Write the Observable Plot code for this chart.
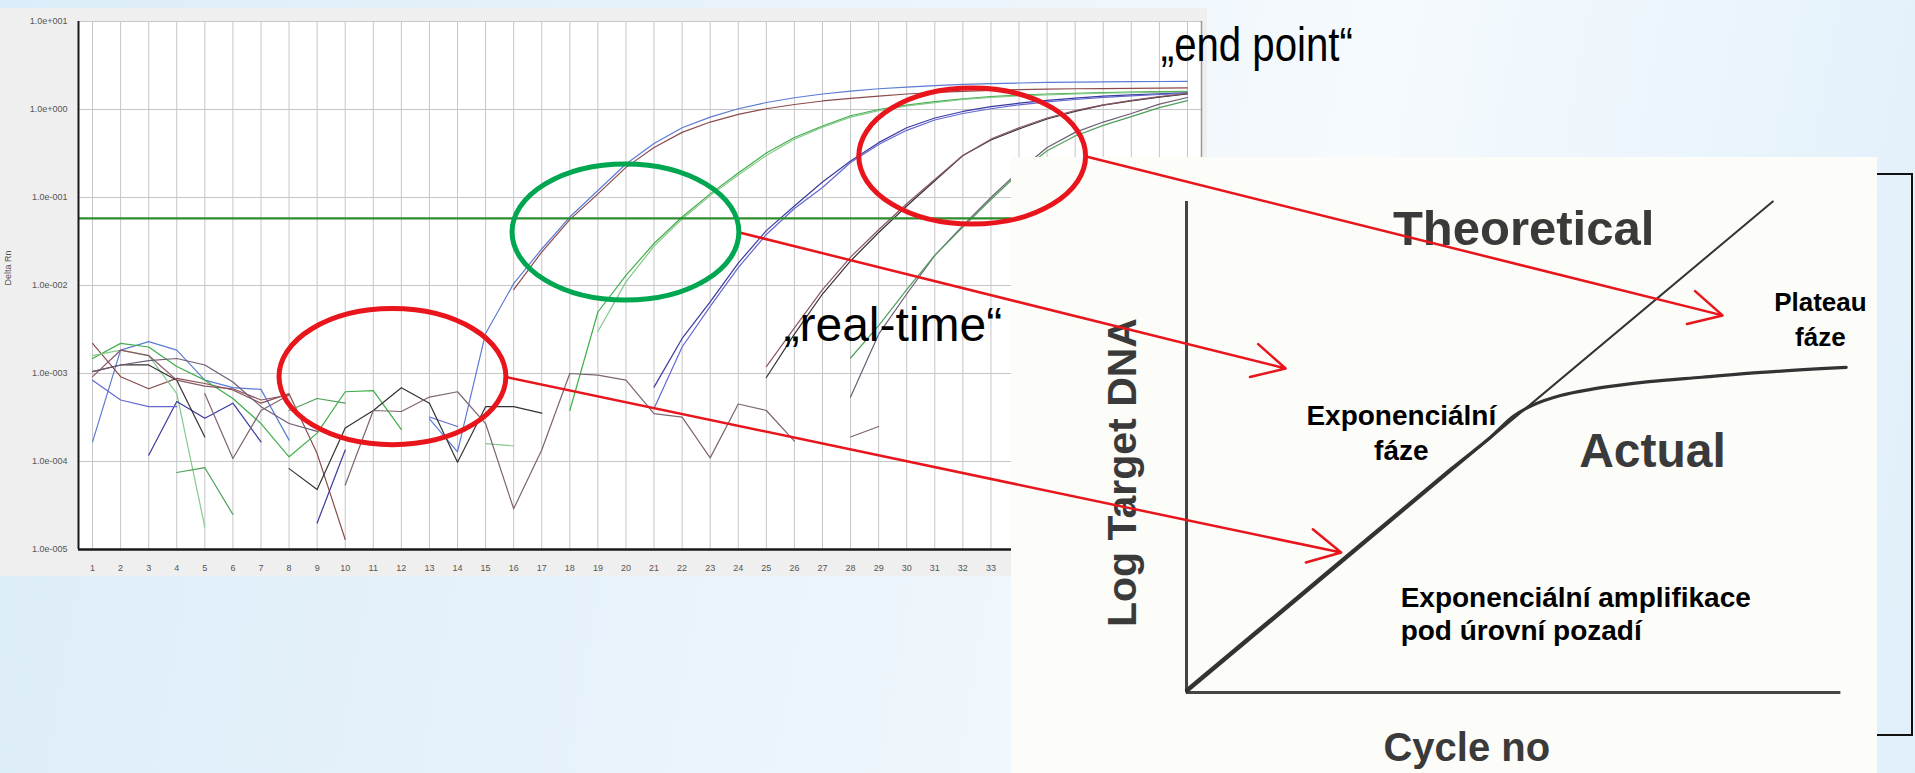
<!DOCTYPE html>
<html lang="cs">
<head>
<meta charset="utf-8">
<script src="https://cdn.jsdelivr.net/npm/d3@7"></script>
<script src="https://cdn.jsdelivr.net/npm/@observablehq/plot@0.6"></script>
<style>
  html, body { margin:0; padding:0; }
  body { width:1915px; height:773px; overflow:hidden; position:relative;
    background: linear-gradient(100deg, #dcedf9 0%, #e7f2fb 35%, #f5fafd 68%, #e0effa 100%);
    font-family: "Liberation Sans", Arial, sans-serif; }
  .abs { position:absolute; }
  #panel { left:0; top:8px; width:1207px; height:568px; background:#efefef; }
  #c1 { left:0; top:0; }
  #frame { left:1060px; top:173px; width:849px; height:559px; border:2px solid #111; }
  #box { left:1011px; top:157px; width:866px; height:616px; background:#fcfcf9; }
  #ov { left:0; top:0; pointer-events:none; }
  svg { overflow: visible; }
</style>
</head>
<body>
<div id="panel" class="abs"></div>
<div id="c1" class="abs"></div>
<div id="frame" class="abs"></div>
<div id="box" class="abs"></div>
<div id="ov" class="abs"></div>
<script>
// ---------- DATA: amplification plot (Delta Rn, log scale) ----------
const cycles = [1,2,3,4,5,6,7,8,9,10,11,12,13,14,15,16,17,18,19,20,21,22,23,24,25,26,27,28,29,30,31,32,33,34,35,36,37,38,39,40];
const yTicks = [1e-5, 1e-4, 1e-3, 1e-2, 1e-1, 1, 10];
const threshold = [0.058];

const samples = ["A1","A2","B1","B2","C1","C2","D1","D2","E1","E2","NTC"];
const sampleColors = ["#5b7bd5","#8b4b4b","#3fae49","#86c98a","#3a3aa0","#6468d0","#333333","#8a5565","#6d5d75","#4f9f5a","#7d6470"];

const A1 = [1.67e-4,1.84e-3,2.3e-3,1.84e-3,8.4e-4,6.9e-4,6.6e-4,1.75e-4,null,null,null,null,3.05e-4,1.29e-4,2.85e-3,0.0105,0.026,0.06,0.12,0.24,0.41,0.62,0.82,1.02,1.2,1.36,1.5,1.62,1.72,1.8,1.87,1.93,1.97,2.0,2.03,2.05,2.06,2.07,2.08,2.09];
const A2 = [2.2e-3,9.2e-4,6.7e-4,8.8e-4,7.7e-4,6.5e-4,4.6e-4,5.9e-4,1.23e-4,1.3e-5,null,null,null,null,null,0.009,0.024,0.056,0.11,0.22,0.37,0.55,0.72,0.88,1.02,1.14,1.25,1.34,1.42,1.5,1.56,1.61,1.65,1.68,1.7,1.72,1.73,1.74,1.75,1.76];
const B1 = [1.48e-3,2.2e-3,2.0e-3,1.2e-3,8.4e-4,5.2e-4,2.7e-4,1.13e-4,2.1e-4,6.2e-4,6.4e-4,2.3e-4,null,null,null,null,null,3.8e-4,5e-3,0.013,0.03,0.06,0.11,0.19,0.32,0.48,0.65,0.85,1.0,1.12,1.23,1.32,1.4,1.46,1.5,1.53,1.56,1.58,1.6,1.61];
const B2 = [1.6e-3,1.84e-3,1.6e-3,5.9e-4,1.8e-5,null,null,null,null,null,null,null,null,null,1.6e-4,1.5e-4,null,null,3e-3,0.011,0.028,0.057,0.105,0.18,0.3,0.46,0.63,0.82,0.97,1.1,1.2,1.3,1.37,1.43,1.47,1.5,1.53,1.55,1.57,1.58];
const C1 = [null,null,1.18e-4,4.8e-4,3.1e-4,4.6e-4,1.67e-4,null,2.0e-5,1.35e-4,null,null,null,null,null,null,null,null,null,null,7e-4,2.5e-3,6.5e-3,0.018,0.042,0.08,0.15,0.26,0.42,0.62,0.8,0.95,1.08,1.18,1.27,1.35,1.42,1.47,1.51,1.55];
const C2 = [8.4e-4,5e-4,4.2e-4,4.2e-4,null,null,null,null,null,null,null,null,3.2e-4,2.5e-4,null,null,null,null,null,null,4e-4,2e-3,5.8e-3,0.016,0.038,0.075,0.13,0.25,0.4,0.58,0.76,0.9,1.02,1.13,1.22,1.3,1.37,1.43,1.48,1.52];
const D1 = [1.05e-3,1.25e-3,1.25e-3,8.4e-4,1.9e-4,null,null,8.3e-5,4.8e-5,2.4e-4,3.8e-4,6.9e-4,4.6e-4,9.8e-5,4.2e-4,4.2e-4,3.55e-4,null,null,null,null,null,null,null,9e-4,2.8e-3,8e-3,0.019,0.04,0.08,0.155,0.3,0.45,0.6,0.78,0.95,1.12,1.25,1.38,1.5];
const D2 = [9.2e-4,1.84e-3,1.6e-3,8.4e-4,7.2e-4,6.7e-4,5e-4,5.7e-4,null,null,null,null,null,null,null,null,null,null,null,null,null,null,null,null,1.2e-3,3.3e-3,9e-3,0.021,0.043,0.085,0.16,0.3,0.46,0.62,0.8,0.97,1.13,1.27,1.4,1.52];
const E1 = [1.05e-3,1.25e-3,1.4e-3,1.48e-3,1.25e-3,8e-4,4.2e-4,2.7e-4,2.2e-4,null,null,null,null,null,null,null,null,null,null,null,null,null,null,null,null,null,null,5.4e-4,2.8e-3,8e-3,0.022,0.048,0.1,0.2,0.37,0.55,0.72,0.9,1.15,1.37];
const E2 = [null,null,null,7.5e-5,8.5e-5,2.5e-5,null,3.8e-4,5.2e-4,4.6e-4,null,null,null,null,null,null,null,null,null,null,null,null,null,null,null,null,null,1.5e-3,3.5e-3,9e-3,0.022,0.046,0.095,0.19,0.34,0.5,0.66,0.83,1.05,1.26];
const NTC = [null,null,null,null,5.9e-4,1.08e-4,3.8e-4,5.7e-4,null,5.4e-5,3.8e-4,3.7e-4,5.4e-4,6.2e-4,2.7e-4,2.9e-5,1.35e-4,1.0e-3,9.6e-4,8.4e-4,3.5e-4,3.2e-4,1.1e-4,4.5e-4,3.8e-4,1.7e-4,null,1.9e-4,2.5e-4,null,null,null,null,null,null,null,null,null,null,null];
const seriesValues = [A1,A2,B1,B2,C1,C2,D1,D2,E1,E2,NTC];

// ---------- DATA: schematic (theoretical vs actual) ----------
const theoX = [0, 88.7];
const theoY = [0, 100];
const actualX = [0, 20, 40, 46, 49.5, 52.5, 56.6, 61, 65, 70, 78, 87, 99.8];
const actualY = [0.5, 23, 45.5, 52, 56.3, 58.6, 60.5, 61.7, 62.5, 63.3, 64.2, 65.2, 66.2];

// ---------- annotations (in data coordinates of the charts) ----------
const ellipseCycles = [11.7, 20.0, 32.35];
const ellipseValues = [9.1e-4, 0.040, 0.292];
const ellipseColors = ["#e8161c", "#00a650", "#e8161c"];
const arrowTargetX = [23.4, 15, 81.1];
const arrowTargetY = [28.5, 66, 76.8];

// ---------- chart 1 ----------
const rows = samples.flatMap((s, k) => seriesValues[k].map((v, i) => ({sample: s, cycle: cycles[i], value: v})));
const fmtExp = d => { const e = Math.round(Math.log10(d)); return "1.0e" + (e < 0 ? "-" : "+") + String(Math.abs(e)).padStart(3, "0"); };

const c1 = Plot.plot({
  width: 1207, height: 576,
  marginLeft: 78, marginRight: 6, marginTop: 21, marginBottom: 27,
  style: {background: "transparent", fontFamily: "Liberation Sans, Arial, sans-serif", fontSize: "9px", color: "#555", overflow: "visible"},
  x: {domain: [0.5, 40.5], ticks: cycles, tickSize: 0, tickPadding: 15, tickFormat: d => String(d), label: null},
  y: {type: "log", domain: [1e-5, 10], ticks: yTicks, tickSize: 0, tickPadding: 11, tickFormat: fmtExp, label: null},
  color: {domain: samples, range: sampleColors},
  marks: [
    Plot.frame({fill: "white", stroke: null}),
    Plot.ruleX(cycles, {stroke: "#c6c6c6", strokeWidth: 1}),
    Plot.ruleY(yTicks, {stroke: "#c6c6c6", strokeWidth: 1.2}),
    Plot.line(rows, {x: "cycle", y: "value", z: "sample", stroke: "sample", strokeWidth: 1.2}),
    Plot.ruleY(threshold, {stroke: "#2e8b2e", strokeWidth: 2.2}),
    Plot.ruleX([40.5], {stroke: "#999", strokeWidth: 1.5}),
    Plot.ruleX([0.5], {stroke: "#1a1a1a", strokeWidth: 2}),
    Plot.ruleY([1e-5], {stroke: "#1a1a1a", strokeWidth: 2.5}),
    Plot.text(["Delta Rn"], {frameAnchor: "left", dx: -70, rotate: -90, fontSize: 9, fill: "#555"})
  ]
});
document.getElementById("c1").appendChild(c1);

// ---------- chart 2 (schematic) ----------
const BOX = {left: 1011, top: 157};
const theoretical = theoX.map((x, i) => ({x, y: theoY[i]}));
const actual = actualX.map((x, i) => ({x, y: actualY[i]}));
const scanFont = "Liberation Sans, Arial, sans-serif";

const c2 = Plot.plot({
  width: 866, height: 616,
  marginLeft: 175, marginRight: 30, marginTop: 44, marginBottom: 81,
  style: {background: "transparent", fontFamily: scanFont, overflow: "visible"},
  x: {domain: [0, 100], axis: null},
  y: {domain: [0, 100], axis: null},
  marks: [
    Plot.ruleX([0], {y1: 0, y2: 100, stroke: "#444", strokeWidth: 3}),
    Plot.ruleY([0], {x1: 0, x2: 99, stroke: "#444", strokeWidth: 3}),
    Plot.line(theoretical, {x: "x", y: "y", stroke: "#333", strokeWidth: 2}),
    Plot.line(actual, {x: "x", y: "y", stroke: "#333", strokeWidth: 3.2, curve: "catmull-rom"}),
    Plot.text(["Theoretical"], {x: 51, y: 91.2, fontSize: 49, fontWeight: "bold", fill: "#3a3a3a", textAnchor: "middle", lineAnchor: "bottom"}),
    Plot.text(["Actual"], {x: 70.5, y: 46.0, fontSize: 48, fontWeight: "bold", fill: "#3a3a3a", textAnchor: "middle", lineAnchor: "bottom"}),
    Plot.text(["Log Target DNA"], {x: -7.7, y: 44.8, rotate: -90, fontSize: 41, fontWeight: "bold", fill: "#3a3a3a", textAnchor: "middle", lineAnchor: "bottom"}),
    Plot.text(["Cycle no"], {x: 42.4, y: -13.85, fontSize: 40, fontWeight: "bold", fill: "#3a3a3a", textAnchor: "middle", lineAnchor: "bottom"}),
    Plot.text(["Exponenciální"], {x: 32.5, y: 54.4, fontSize: 28, fontWeight: "bold", fill: "#000", textAnchor: "middle", lineAnchor: "bottom"}),
    Plot.text(["fáze"], {x: 32.5, y: 47.3, fontSize: 28, fontWeight: "bold", fill: "#000", textAnchor: "middle", lineAnchor: "bottom"}),
    Plot.text(["Exponenciální amplifikace"], {x: 32.4, y: 17.5, fontSize: 28, fontWeight: "bold", fill: "#000", textAnchor: "start", lineAnchor: "bottom"}),
    Plot.text(["pod úrovní pozadí"], {x: 32.4, y: 10.6, fontSize: 28, fontWeight: "bold", fill: "#000", textAnchor: "start", lineAnchor: "bottom"}),
    Plot.text(["Plateau"], {x: 95.9, y: 77.8, fontSize: 26, fontWeight: "bold", fill: "#000", textAnchor: "middle", lineAnchor: "bottom"}),
    Plot.text(["fáze"], {x: 95.9, y: 70.5, fontSize: 26, fontWeight: "bold", fill: "#000", textAnchor: "middle", lineAnchor: "bottom"})
  ]
});
document.getElementById("box").appendChild(c2);

// ---------- overlay: ellipses, arrows, slide texts ----------
const sx1 = v => c1.scale("x").apply(v);
const sy1 = v => c1.scale("y").apply(v);
const sx2 = v => BOX.left + c2.scale("x").apply(v);
const sy2 = v => BOX.top + c2.scale("y").apply(v);
const RC = 4.04, RD = 0.773; // ellipse half-width in cycles, half-height in decades

const ellipseMark = () => {
  const g = d3.create("svg:g");
  ellipseCycles.forEach((c, k) => {
    const cx = sx1(c), cy = sy1(ellipseValues[k]);
    g.append("ellipse")
      .attr("cx", cx).attr("cy", cy)
      .attr("rx", sx1(c + RC) - cx).attr("ry", cy - sy1(ellipseValues[k] * Math.pow(10, RD)))
      .attr("fill", "none").attr("stroke", ellipseColors[k]).attr("stroke-width", 5);
  });
  return g.node();
};

const arrowRows = ellipseCycles.map((c, k) => ({
  x1: sx1(c + RC), y1: sy1(ellipseValues[k]),
  x2: sx2(arrowTargetX[k]), y2: sy2(arrowTargetY[k])
}));

const slideTexts = [
  {t: "„end point“", x: sx1(39.05), y: sy1(3.6)},
  {t: "„real-time“", x: sx1(25.61), y: sy1(2.37e-3)}
];

const W = 1915, H = 773;
const ov = Plot.plot({
  width: W, height: H, margin: 0,
  style: {background: "transparent", overflow: "visible"},
  x: {domain: [0, W], range: [0, W], axis: null},
  y: {domain: [0, H], range: [0, H], axis: null},
  marks: [
    Plot.arrow(arrowRows, {x1: "x1", y1: "y1", x2: "x2", y2: "y2", stroke: "#e8161c", strokeWidth: 2.5, headLength: 22, headAngle: 55}),
    ellipseMark,
    Plot.text(slideTexts, {x: "x", y: "y", text: "t", fontSize: 48, fill: "#000", fontFamily: "Liberation Sans, Arial, sans-serif", textAnchor: "start", lineAnchor: "bottom"})
  ]
});
document.getElementById("ov").appendChild(ov);
// the "end point" label on the slide is set in a narrower face
d3.select(ov).selectAll("text")
  .filter(function () { return this.textContent === "„end point“"; })
  .attr("textLength", 192).attr("lengthAdjust", "spacingAndGlyphs");
</script>
</body>
</html>
